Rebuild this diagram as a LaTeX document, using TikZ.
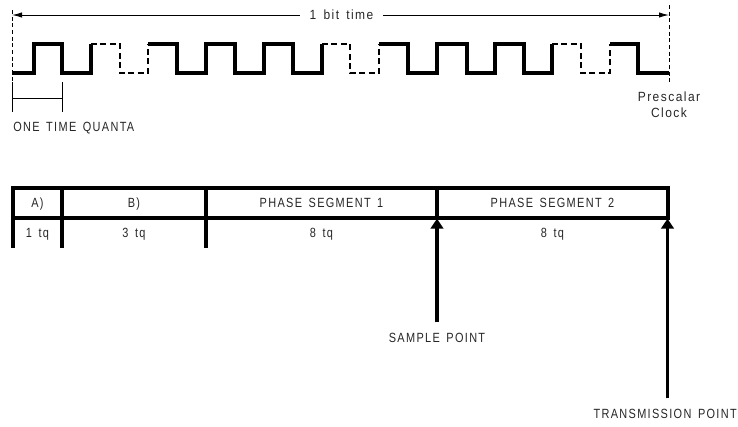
\documentclass[tikz,border=0pt]{standalone}
\usepackage{fontspec}
\setmainfont{Liberation Sans}
\newfontfamily\capsfont[LetterSpace=10,WordSpace=1.5,FakeStretch=0.82]{Liberation Sans}
\newfontfamily\lowfont[LetterSpace=11,WordSpace=1.5,FakeStretch=0.9]{Liberation Sans}
\usetikzlibrary{positioning,arrows.meta}
\begin{document}
\begin{tikzpicture}[
  x=0.75pt, y=-0.75pt,
  every node/.style={inner sep=0pt, text=black!85},
  caps/.style={font=\capsfont\fontsize{10}{10}\selectfont, text height=7.2pt, text depth=0pt},
  lower/.style={font=\lowfont\fontsize{10}{12}\selectfont, align=center},
  clk/.style={line width=2.6pt},
  clkoff/.style={line width=0.9pt, dash pattern=on 4.5pt off 2.6pt},
  guide/.style={line width=0.6pt, dash pattern=on 3pt off 2pt},
  dim/.style={line width=0.6pt},
  bar/.style={line width=2.4pt},
  span/.style={line width=0.7pt, -{Latex[length=7.5pt,width=4pt]}},
  point/.style={line width=2.4pt, -{Triangle[length=7.5pt,width=9.5pt]}, shorten >=-1pt, shorten <=8pt}
]
  \useasboundingbox (0,0) rectangle (738,426);
  % bit time span
  \coordinate (bitL) at (12,15);
  \coordinate (bitR) at (669,15);
  \node[lower, minimum width=62pt, minimum height=9pt] (bit) at (341.5,15) {1 bit time};
  \draw[span] (bit.west) -- (bitL);
  \draw[span] (bit.east) -- (bitR);
  \draw[guide] (12,10) -- (12,82);
  \draw[guide] (669,5) -- (669,83);
  % prescaler clock
  \draw[clk] (12,73) -| (34,44) -| (62,73) -| (91,44);
  \draw[clkoff] (91,44) -| (120,73) -| (148,44);
  \draw[clk] (148,44) -| (177,73) -| (206,44) -| (235,73) -| (264,44) -| (293,73) -| (322,44);
  \draw[clkoff] (322,44) -| (350,73) -| (379,44);
  \draw[clk] (379,44) -| (408,73) -| (437,44) -| (467,73) -| (495,44) -| (524,73) -| (552,44);
  \draw[clkoff] (552,44) -| (581,73) -| (610,44);
  \draw[clk] (610,44) -| (638,73) -- (669,73);
  \node[lower] (prescaler) at (669,105) {Prescalar\\Clock};
  % one time quanta
  \coordinate (tqL) at (12,98);
  \coordinate (tqR) at (62,98);
  \draw[dim] (12,82) -- (12,112);
  \draw[dim] (62,82) -- (62,112);
  \draw[dim] (tqL) -- (tqR);
  \node[caps, anchor=west] (quanta) at (13,127) {ONE TIME QUANTA};
  % segments
  \draw[bar] (13,248) -- (13,188) -- (668,188) -- (668,218) -- (13,218);
  \draw[bar] (62,188) -- (62,248);
  \draw[bar] (206,188) -- (206,248);
  \draw[bar] (437,188) -- (437,218);
  \node[caps] (segA) at (37.5,203) {A)};
  \node[caps] (segB) at (134,203) {B)};
  \node[caps] (segC) at (321.5,203) {PHASE SEGMENT 1};
  \node[caps] (segD) at (552.5,203) {PHASE SEGMENT 2};
  \node[caps] (tqA) at (37.5,233) {1 tq};
  \node[caps] (tqB) at (134,233) {3 tq};
  \node[caps] (tqC) at (321.5,233) {8 tq};
  \node[caps] (tqD) at (552.5,233) {8 tq};
  % sample and transmission
  \coordinate (sampleTip) at (437,220);
  \coordinate (transTip) at (667.5,220);
  \node[caps] (sample) at (437,338) {SAMPLE POINT};
  \node[caps, anchor=east] (trans) at (737,414) {TRANSMISSION POINT};
  \draw[point] (sample.north) -- (sampleTip);
  \draw[point] (trans.north -| transTip) -- (transTip);
\end{tikzpicture}
\end{document}
